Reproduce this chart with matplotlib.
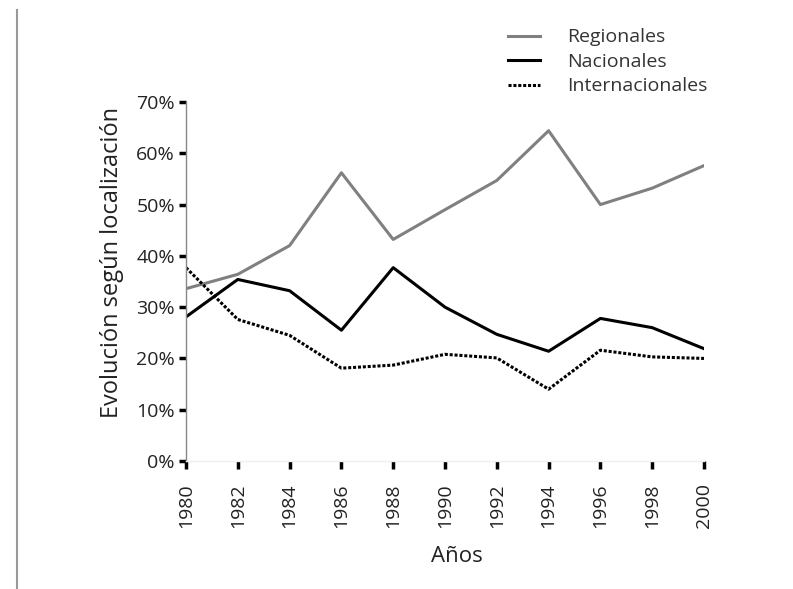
import matplotlib
matplotlib.use("Agg")
import matplotlib.pyplot as plt
from matplotlib.lines import Line2D
from matplotlib.ticker import FuncFormatter

plt.rcParams['font.family'] = ['Open Sans', 'DejaVu Sans']

years = [1980, 1982, 1984, 1986, 1988, 1990, 1992, 1994, 1996, 1998, 2000]
regionales = [33.6, 36.4, 42.0, 56.2, 43.2, 49.0, 54.7, 64.4, 50.0, 53.2, 57.6]
nacionales = [28.1, 35.4, 33.2, 25.5, 37.7, 30.0, 24.7, 21.4, 27.8, 26.0, 21.9]
internacionales = [37.7, 27.6, 24.5, 18.1, 18.7, 20.8, 20.1, 14.0, 21.6, 20.3, 20.0]
y_ticks = [0, 10, 20, 30, 40, 50, 60, 70]

fig = plt.figure(figsize=(7.93, 5.89), dpi=100)
ax = fig.add_axes([186/793, 1-461/589, (704-186)/793, (461-102)/589])

ax.plot(years, regionales, color='#808080', lw=2.2, label='Regionales')
ax.plot(years, nacionales, color='black', lw=2.2, label='Nacionales')
ax.plot(years, internacionales, color='black', lw=2.2, linestyle=(0, (1, 0.6)), label='Internacionales')

ax.set_xlim(1980, 2000)
ax.set_ylim(0, 70)
ax.set_xticks(years)
ax.set_xticklabels([str(y) for y in years], rotation=90)
ax.set_yticks(y_ticks)
ax.yaxis.set_major_formatter(FuncFormatter(lambda v, p: f"{int(v)}%"))
ax.tick_params(axis='both', labelsize=14, color='black', width=2.5, length=5,
               direction='out')
ax.tick_params(axis='x', pad=10, length=6)
ax.tick_params(axis='y', pad=3)
for lab in ax.get_xticklabels() + ax.get_yticklabels():
    lab.set_color('#222222')

ax.spines['top'].set_visible(False)
ax.spines['right'].set_visible(False)
ax.spines['left'].set_color('#888888')
ax.spines['left'].set_linewidth(1)
ax.spines['bottom'].set_color('#eeeeee')
ax.spines['bottom'].set_linewidth(1)

ax.set_xlabel('Años', fontsize=16, color='#222222')
ax.set_ylabel('Evolución según localización', fontsize=17, color='#222222')
ax.xaxis.set_label_coords((457-186)/518, (461-546)/359)
ax.yaxis.set_label_coords((124-186)/518, (461-263)/359)

leg = fig.legend(loc='upper left', bbox_to_anchor=(490/793, 1-11/589), frameon=False,
                 fontsize=14, handlelength=1.65, handletextpad=1.4, labelspacing=0.33,
                 labelcolor='#333333')

fig.add_artist(Line2D([17/793, 17/793], [0, 1-10/589], color='#999999', lw=1.5,
                      transform=fig.transFigure))

fig.savefig('out.png', dpi=100)
